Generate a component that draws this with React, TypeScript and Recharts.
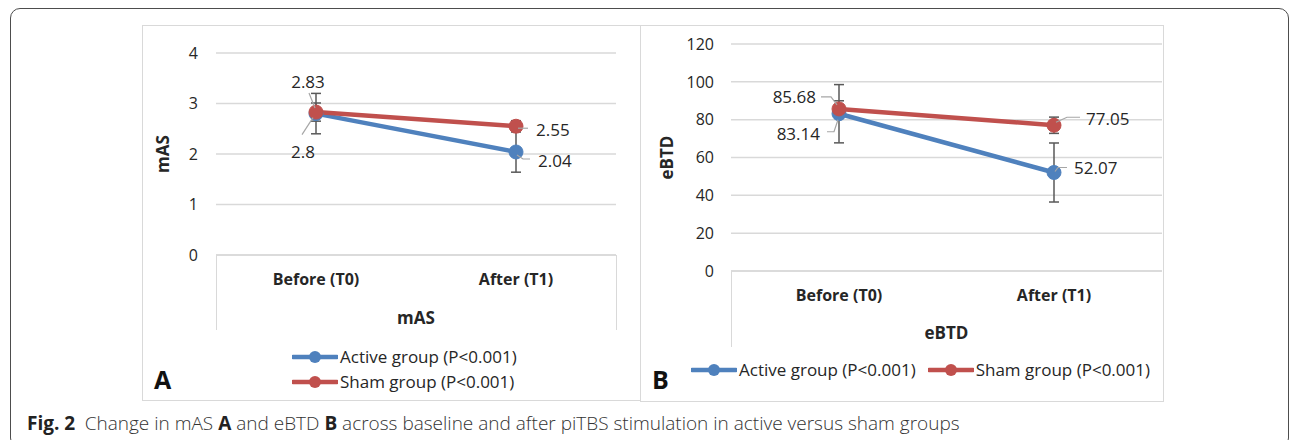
import React from 'react'
import { LineChart, Line, XAxis, YAxis, CartesianGrid, ErrorBar, LabelList, Label } from 'recharts'

const categories = ['Before (T0)', 'After (T1)']

const masActive = [2.8, 2.04]
const masActiveErr = [0.4, 0.4]
const masSham = [2.83, 2.55]
const masShamErr = [0.18, 0.11]
const masTicks = [0, 1, 2, 3, 4]

const ebtdActive = [83.14, 52.07]
const ebtdActiveErr = [15.4, 15.6]
const ebtdSham = [85.68, 77.05]
const ebtdShamErr = [4.3, 4.3]
const ebtdTicks = [0, 20, 40, 60, 80, 100, 120]

const activeName = 'Active group (P<0.001)'
const shamName = 'Sham group (P<0.001)'

const BLUE = '#4f81bd'
const RED = '#c0504d'
const GRID = '#d9d9d9'
const TEXT = '#262626'
const FONT = '"Open Sans", "Noto Sans", sans-serif'

const masData = categories.map((name, i) => ({
  name,
  active: masActive[i],
  activeErr: masActiveErr[i],
  sham: masSham[i],
  shamErr: masShamErr[i],
}))

const ebtdData = categories.map((name, i) => ({
  name,
  active: ebtdActive[i],
  activeErr: ebtdActiveErr[i],
  sham: ebtdSham[i],
  shamErr: ebtdShamErr[i],
}))

// data label placement, relative to the point (excel-style callouts with leader lines)
type Callout = { dx: number; dy: number; anchor: 'start' | 'middle' | 'end'; leader: [number, number][] }

const masActiveCallouts: Callout[] = [
  { dx: -13, dy: 38, anchor: 'middle', leader: [[-14, 21], [-3, 4]] },
  { dx: 22, dy: 9, anchor: 'start', leader: [[1, 3], [7, 7], [14, 7]] },
]
const masShamCallouts: Callout[] = [
  { dx: -8, dy: -30, anchor: 'middle', leader: [[-7, -19], [-1, -4]] },
  { dx: 20, dy: 4, anchor: 'start', leader: [[2, 2], [12, 2]] },
]
const ebtdActiveCallouts: Callout[] = [
  { dx: -19, dy: 20, anchor: 'end', leader: [[-12, 18], [-5, 18], [-1, 6]] },
  { dx: 20, dy: -4, anchor: 'start', leader: [[1, -1], [4, -5], [13, -5]] },
]
const ebtdShamCallouts: Callout[] = [
  { dx: -23, dy: -12, anchor: 'end', leader: [[-18, -12], [-8, -12], [-2, -4]] },
  { dx: 32, dy: -6, anchor: 'start', leader: [[2, -3], [13, -8], [26, -8]] },
]

const renderCallout = (callouts: Callout[]) => (props: any) => {
  const { x, y, value, index } = props
  const c = callouts[index]
  if (!c || x == null || y == null) return null
  const pts = c.leader.map(([px, py]) => `${x + px},${y + py}`).join(' ')
  return (
    <g key={`co-${index}`}>
      <polyline points={pts} fill="none" stroke="#a6a6a6" strokeWidth={1.2} />
      <text
        x={x + c.dx}
        y={y + c.dy}
        dy="0.35em"
        textAnchor={c.anchor}
        fontSize={17}
        fontFamily={FONT}
        fill={TEXT}
      >
        {value}
      </text>
    </g>
  )
}

const yTitle = (text: string, x: number) => (props: any) => {
  const vb = props.viewBox || {}
  const cy = vb.y + vb.height / 2
  return (
    <text
      x={x}
      y={cy}
      transform={`rotate(-90 ${x} ${cy})`}
      textAnchor="middle"
      dy="0.35em"
      fontSize={17}
      fontWeight={700}
      fontFamily={FONT}
      fill={TEXT}
    >
      {text}
    </text>
  )
}

const LegendIcon = ({ color }: { color: string }) => (
  <svg width={46} height={14} style={{ display: 'block' }}>
    <line x1={1} y1={7} x2={45} y2={7} stroke={color} strokeWidth={4.5} strokeLinecap="round" />
    <circle cx={23} cy={7} r={6} fill={color} />
  </svg>
)

const legendText: React.CSSProperties = {
  fontFamily: FONT,
  fontSize: 17,
  color: TEXT,
  whiteSpace: 'nowrap',
  lineHeight: '20px',
}

const abs = (left: number, top: number, extra: React.CSSProperties = {}): React.CSSProperties => ({
  position: 'absolute',
  left,
  top,
  ...extra,
})

export default function App() {
  const tickStyle = { fontSize: 16, fontFamily: FONT, fill: TEXT }
  const catStyle = { fontSize: 16, fontFamily: FONT, fill: TEXT, fontWeight: 700 }

  return (
    <div style={{ position: 'absolute', left: 0, top: 0, width: 1292, height: 440, background: '#fff', overflow: 'hidden' }}>
      {/* outer figure frame */}
      <div style={abs(10, 8, { width: 1279, height: 440, border: '1.5px solid #4d4d4d', borderRadius: 10, boxSizing: 'border-box' })} />

      {/* chart A box */}
      <div style={abs(142, 25, { width: 499, height: 376, border: `1.5px solid ${GRID}`, boxSizing: 'border-box' })} />
      {/* chart B box */}
      <div style={abs(640, 25, { width: 524, height: 377, border: `1.5px solid ${GRID}`, boxSizing: 'border-box' })} />

      {/* category box side lines */}
      <div style={abs(215.5, 255, { width: 0, height: 75, borderLeft: `1.5px solid ${GRID}` })} />
      <div style={abs(615.5, 255, { width: 0, height: 75, borderLeft: `1.5px solid ${GRID}` })} />
      <div style={abs(730.5, 271, { width: 0, height: 76, borderLeft: `1.5px solid ${GRID}` })} />

      {/* chart A */}
      <div style={abs(142, 25)}>
        <LineChart width={498} height={375} data={masData} margin={{ top: 28, right: 24, bottom: 70, left: 0 }}>
          <CartesianGrid vertical={false} stroke={GRID} strokeWidth={1.5} />
          <XAxis
            dataKey="name"
            padding={{ left: 100, right: 100 }}
            height={75}
            axisLine={{ stroke: GRID, strokeWidth: 1.5 }}
            tickLine={false}
            tickSize={0}
            tickMargin={19}
            tick={catStyle}
          >
            <Label value="mAS" position="insideBottom" offset={6} style={{ fontSize: 17, fontWeight: 700, fontFamily: FONT, fill: TEXT }} />
          </XAxis>
          <YAxis
            width={74}
            domain={[0, 4]}
            ticks={masTicks}
            interval={0}
            axisLine={false}
            tickLine={false}
            tickSize={0}
            tickMargin={18}
            tick={tickStyle}
          >
            <Label content={yTitle('mAS', 21)} />
          </YAxis>
          <Line dataKey="active" name={activeName} stroke={BLUE} strokeWidth={4.5} dot={{ r: 7, fill: BLUE, stroke: BLUE, strokeWidth: 1 }} isAnimationActive={false}>
            <ErrorBar dataKey="activeErr" width={5} stroke="#595959" strokeWidth={1.5} direction="y" />
            <LabelList dataKey="active" content={renderCallout(masActiveCallouts)} />
          </Line>
          <Line dataKey="sham" name={shamName} stroke={RED} strokeWidth={4.5} dot={{ r: 7, fill: RED, stroke: RED, strokeWidth: 1 }} isAnimationActive={false}>
            <ErrorBar dataKey="shamErr" width={5} stroke="#595959" strokeWidth={1.5} direction="y" />
            <LabelList dataKey="sham" content={renderCallout(masShamCallouts)} />
          </Line>
        </LineChart>
      </div>

      {/* chart B */}
      <div style={abs(640, 25)}>
        <LineChart width={523} height={376} data={ebtdData} margin={{ top: 19, right: 1, bottom: 55, left: 0 }}>
          <CartesianGrid vertical={false} stroke={GRID} strokeWidth={1.5} />
          <XAxis
            dataKey="name"
            padding={{ left: 108, right: 108 }}
            height={75}
            axisLine={{ stroke: GRID, strokeWidth: 1.5 }}
            tickLine={false}
            tickSize={0}
            tickMargin={19}
            tick={catStyle}
          >
            <Label value="eBTD" position="insideBottom" offset={7} style={{ fontSize: 17, fontWeight: 700, fontFamily: FONT, fill: TEXT }} />
          </XAxis>
          <YAxis
            width={91}
            domain={[0, 120]}
            ticks={ebtdTicks}
            interval={0}
            axisLine={false}
            tickLine={false}
            tickSize={0}
            tickMargin={17}
            tick={tickStyle}
          >
            <Label content={yTitle('eBTD', 27)} />
          </YAxis>
          <Line dataKey="active" name={activeName} stroke={BLUE} strokeWidth={4.5} dot={{ r: 7, fill: BLUE, stroke: BLUE, strokeWidth: 1 }} isAnimationActive={false}>
            <ErrorBar dataKey="activeErr" width={5} stroke="#595959" strokeWidth={1.5} direction="y" />
            <LabelList dataKey="active" content={renderCallout(ebtdActiveCallouts)} />
          </Line>
          <Line dataKey="sham" name={shamName} stroke={RED} strokeWidth={4.5} dot={{ r: 7, fill: RED, stroke: RED, strokeWidth: 1 }} isAnimationActive={false}>
            <ErrorBar dataKey="shamErr" width={5} stroke="#595959" strokeWidth={1.5} direction="y" />
            <LabelList dataKey="sham" content={renderCallout(ebtdShamCallouts)} />
          </Line>
        </LineChart>
      </div>

      {/* legend A (stacked) */}
      <div style={abs(292, 347, { display: 'flex', alignItems: 'center', gap: 2 })}>
        <LegendIcon color={BLUE} />
        <span style={legendText}>{activeName}</span>
      </div>
      <div style={abs(292, 372, { display: 'flex', alignItems: 'center', gap: 2 })}>
        <LegendIcon color={RED} />
        <span style={legendText}>{shamName}</span>
      </div>

      {/* legend B (single row) */}
      <div style={abs(691, 360, { display: 'flex', alignItems: 'center', gap: 2 })}>
        <LegendIcon color={BLUE} />
        <span style={{ ...legendText, marginRight: 10 }}>{activeName}</span>
        <LegendIcon color={RED} />
        <span style={legendText}>{shamName}</span>
      </div>

      {/* panel letters */}
      <div style={abs(154, 364, { fontFamily: FONT, fontSize: 25, fontWeight: 700, color: '#111', lineHeight: '30px' })}>A</div>
      <div style={abs(652, 364, { fontFamily: FONT, fontSize: 25, fontWeight: 700, color: '#111', lineHeight: '30px' })}>B</div>

      {/* caption */}
      <div style={abs(27, 410, { fontFamily: FONT, fontSize: 19, color: '#333', whiteSpace: 'nowrap', lineHeight: '26px', fontWeight: 300 })}>
        <b style={{ fontWeight: 700, color: '#222' }}>Fig. 2</b>
        {'\u2002Change in mAS '}
        <b style={{ fontWeight: 700, color: '#222' }}>A</b>
        {' and eBTD '}
        <b style={{ fontWeight: 700, color: '#222' }}>B</b>
        {' across baseline and after piTBS stimulation in active versus sham groups'}
      </div>
    </div>
  )
}
